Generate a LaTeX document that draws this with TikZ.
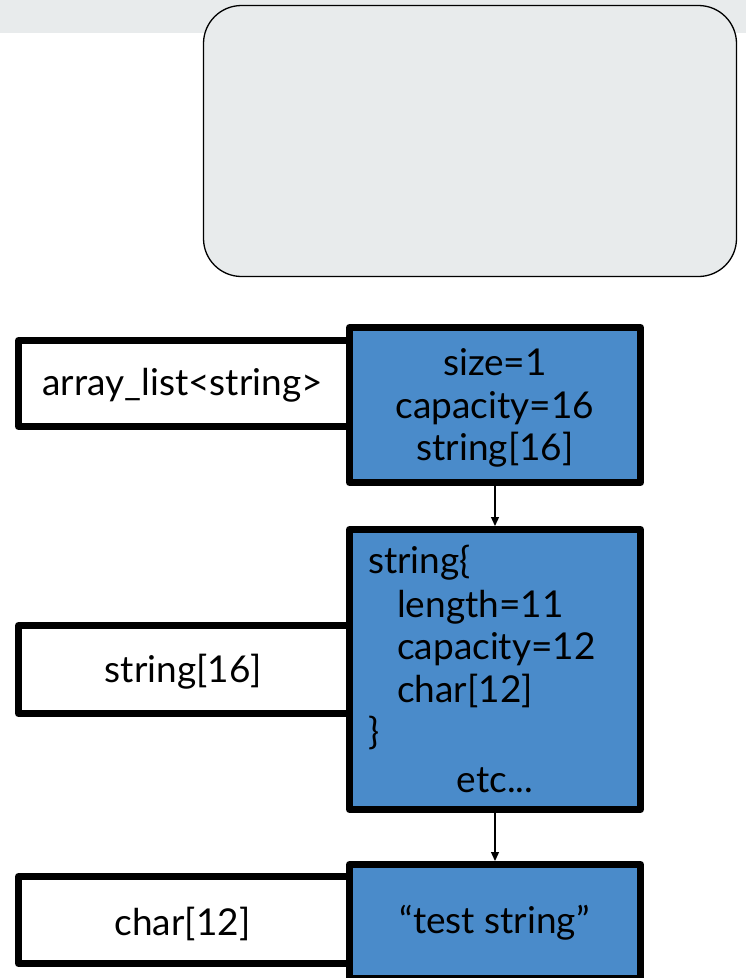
\documentclass[tikz,border=0pt]{standalone}
\usepackage{fontspec}
\setmainfont{Lato}
\usetikzlibrary{arrows.meta}
\definecolor{bandgray}{HTML}{E8EBEC}
\definecolor{boxblue}{HTML}{4A8BCA}
\begin{document}
\begin{tikzpicture}[x=1pt,y=-1pt,
  txt/.style={inner sep=0pt, anchor=base, font=\fontsize{37}{42}\selectfont},
  ltxt/.style={inner sep=0pt, anchor=base west, font=\fontsize{37}{42}\selectfont},
  lbox/.style={draw=black, fill=white, line width=7pt, line join=round, minimum width=331pt, inner sep=0pt},
  bbox/.style={draw=black, fill=boxblue, line width=7pt, line join=round, minimum width=291pt, inner sep=0pt},
  link/.style={draw=black, line width=1.3pt, -{Triangle[length=9pt,width=8pt]}},
  panel/.style={draw=black, fill=bandgray, line width=1.3pt, rounded corners=38pt, minimum width=533pt, minimum height=271pt, inner sep=0pt}
]
\useasboundingbox (0,0) rectangle (746,978);
% top band
\fill[bandgray] (0,0) rectangle (746,33);
\node[panel] (panel) at (470,141) {};

% left boxes
\node[lbox, minimum height=86pt] (l1) at (184,383.5) {};
\node[lbox, minimum height=88pt] (l2) at (184,669.5) {};
\node[lbox, minimum height=87pt] (l3) at (184,920) {};

% blue boxes
\node[bbox, minimum height=155pt] (b1) at (495,405) {};
\node[bbox, minimum height=280pt] (b2) at (495,669.5) {};
\node[bbox, minimum height=113.5pt] (b3) at (495,921.25) {};

% left texts
\node[txt] (l1t) at (182.5,395) {array\_list<string>};
\node[txt] (l2t) at (183.5,682) {string[16]};
\node[txt] (l3t) at (182.5,935) {char[12]};

% b1 texts
\node[txt] (b1a) at (495,375) {size=1};
\node[txt] (b1b) at (495,418) {capacity=16};
\node[txt] (b1c) at (495,460) {string[16]};

% b2 texts
\node[ltxt] (b2a) at (368,573) {string\{};
\node[ltxt] (b2b) at (397,617) {length=11};
\node[ltxt] (b2c) at (397,659) {capacity=12};
\node[ltxt] (b2d) at (397,702) {char[12]};
\node[ltxt] (b2e) at (368,744) {\}};
\node[txt] (b2f) at (495,792) {etc...};

% b3 text
\node[txt] (b3t) at (494.5,933) {“test string”};

% connectors
\draw[link] (b1.south) -- (b2.north);
\draw[link] (b2.south) -- (b3.north);
\end{tikzpicture}
\end{document}
